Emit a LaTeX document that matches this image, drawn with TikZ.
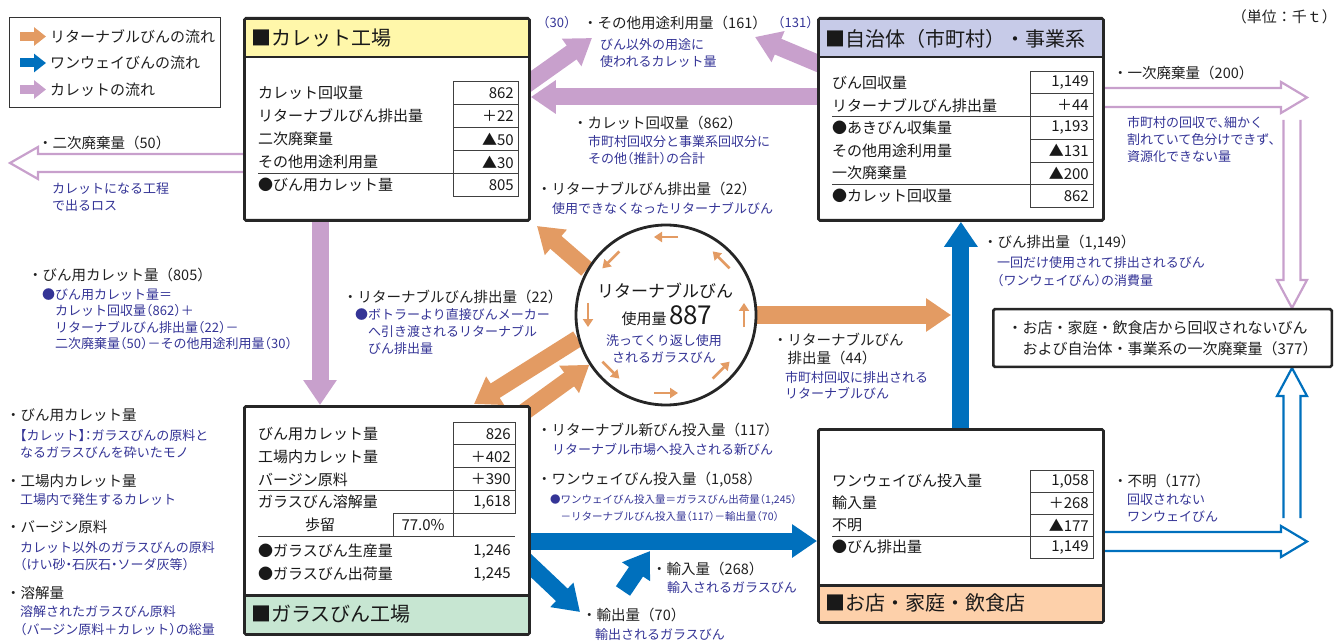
\documentclass[tikz,border=0pt]{standalone}
\usepackage{fontspec}
\setmainfont{Noto Sans CJK JP}
\newfontfamily\jpnote{Noto Sans CJK JP}[RawFeature=+halt]
\usetikzlibrary{arrows.meta,calc,backgrounds}
\definecolor{retc}{RGB}{227,155,99}
\definecolor{owc}{RGB}{0,112,189}
\definecolor{culc}{RGB}{200,160,204}
\definecolor{noteb}{RGB}{52,52,150}
\definecolor{hdy}{RGB}{255,247,170}
\definecolor{hdl}{RGB}{199,203,232}
\definecolor{hdg}{RGB}{199,230,210}
\definecolor{hdp}{RGB}{253,208,170}
\newcommand\fsz[1]{\fontsize{#1}{#1}\selectfont}

\begin{document}
\begin{tikzpicture}[x=1pt, y=-1pt,
	box/.style={draw=black!85, line width=2.8pt, fill=white, rounded corners=1.5pt, anchor=north west, inner sep=0pt},
	hd/.style={text width=272.2pt, inner xsep=5pt, inner ysep=0pt, minimum height=37pt, align=left, font=\fsz{20}, text=black!90},
	hdline/.style={draw=black!85, line width=2.5pt},
	row/.style={anchor=west, inner sep=0pt, font=\fsz{15}, text=black!90},
	val/.style={anchor=east, inner sep=0pt, font=\fsz{15}, text=black!90},
	tbl/.style={draw=black!75, line width=0.8pt},
	lbl/.style={anchor=west, inner sep=0pt, font=\fsz{14.5}, text=black!88},
	note/.style={anchor=north west, inner sep=0pt, align=left, font=\jpnote\fontsize{13}{17}\selectfont, text=noteb},
	bigar/.style={line width=17pt, -{Triangle[width=32pt,length=25pt]}},
	hollow/.style={line width=2.2pt},
	loopar/.style={draw=retc, line width=2.6pt, -{Triangle[width=10pt,length=8pt]}}]
	\useasboundingbox (0,0) rectangle (1341,644);

	% legend
	\node[draw=black!80, line width=1pt, minimum width=211pt, minimum height=90pt, anchor=north west, inner sep=0pt] (lg) at (9,17) {};
	\foreach \c/\t [count=\i] in {retc/リターナブルびんの流れ, owc/ワンウェイびんの流れ, culc/カレットの流れ} {
		\draw[\c, line width=9pt, -{Triangle[width=18pt,length=12pt]}] (20,{10+26.5*\i}) -- ++(26,0);
		\node[lbl, font=\fsz{15}] (lg\i) at (50,{10+26.5*\i}) {\t};
	}
	\node[lbl, anchor=east, font=\fsz{15}] (unit) at (1337,17) {（単位：千ｔ）};

	% boxes
	\node[box, minimum width=285pt, minimum height=202pt] (cf) at (243,17) {};
	\node[hd, fill=hdy, anchor=north west] (cfh) at ($(cf.north west)+(2.8,2.8)$) {■カレット工場};
	\draw[hdline] (cfh.south west) -- (cfh.south east);
	\node[box, minimum width=285pt, minimum height=202pt] (mu) at (817,17) {};
	\node[hd, fill=hdl, anchor=north west] (muh) at ($(mu.north west)+(2.8,2.8)$) {■自治体（市町村）・事業系};
	\draw[hdline] (muh.south west) -- (muh.south east);
	\node[box, minimum width=285pt, minimum height=228pt] (gf) at (243,405) {};
	\node[hd, fill=hdg, anchor=south west] (gfh) at ($(gf.south west)+(2.8,-2.8)$) {■ガラスびん工場};
	\draw[hdline] (gfh.north west) -- (gfh.north east);
	\node[box, minimum width=285pt, minimum height=193pt] (sh) at (817,428) {};
	\node[hd, fill=hdp, anchor=south west, minimum height=35pt] (shh) at ($(sh.south west)+(2.8,-2.8)$) {■お店・家庭・飲食店};
	\draw[hdline] (shh.north west) -- (shh.north east);
	\node[box, line width=2.5pt, minimum width=338.5pt, minimum height=57.5pt, align=left, font=\fontsize{15}{21}\selectfont, text=black!88] (nd) at (992,308) {・お店・家庭・飲食店から回収されないびん\\\phantom{・}および自治体・事業系の一次廃棄量（377）};

	% tables
	\foreach \t/\v [count=\i] in {カレット回収量/862, リターナブルびん排出量/＋22, 二次廃棄量/▲50, その他用途利用量/▲30, ●びん用カレット量/805} {
		\node[row] (cfr\i) at (258,{70+23*\i}) {\t};
		\node[val] (cfv\i) at (514,{70+23*\i}) {\v};
	}
	\draw[tbl] (453,81.5) rectangle (518,196.5);
	\foreach \y in {104.5,127.5,150.5,173.5} \draw[tbl] (453,\y) -- (518,\y);
	\draw[tbl] (258,173.5) -- (453,173.5);

	\foreach \t/\v [count=\i] in {びん回収量/{1,149}, リターナブルびん排出量/＋44, ●あきびん収集量/{1,193}, その他用途利用量/▲131, 一次廃棄量/▲200, ●カレット回収量/862} {
		\node[row] (mur\i) at (832,{59.8+22.7*\i}) {\t};
		\node[val] (muv\i) at (1089,{59.8+22.7*\i}) {\v};
	}
	\draw[tbl] (1030,71.2) rectangle (1093,207.4);
	\foreach \y in {93.9,116.6,139.3,162,184.7} \draw[tbl] (1030,\y) -- (1093,\y);
	\draw[tbl] (832,116.6) -- (1030,116.6);
	\draw[tbl] (832,184.7) -- (1030,184.7);

	\foreach \t/\v [count=\i] in {びん用カレット量/826, 工場内カレット量/＋402, バージン原料/＋390, ガラスびん溶解量/{1,618}} {
		\node[row] (gfr\i) at (258,{411.3+22.7*\i}) {\t};
		\node[val] (gfv\i) at (511,{411.3+22.7*\i}) {\v};
	}
	\draw[tbl] (453,422) rectangle (515,513);
	\foreach \y in {444.7,467.4,490.1} \draw[tbl] (453,\y) -- (515,\y);
	\draw[tbl] (258,490.1) -- (453,490.1);
	\node[row] (gfy) at (305,524.8) {歩留};
	\draw[tbl] (393,513) rectangle (453,536.5);
	\node[row, anchor=center] (gfyv) at (423,524.8) {77.0\%};
	\draw[tbl] (258,536.5) -- (515,536.5);
	\foreach \t/\v [count=\i] in {●ガラスびん生産量/{1,246}, ●ガラスびん出荷量/{1,245}} {
		\node[row] (gfp\i) at (258,{528+23*\i}) {\t};
		\node[val] (gfq\i) at (511,{528+23*\i}) {\v};
	}

	\foreach \t/\v [count=\i] in {ワンウェイびん投入量/{1,058}, 輸入量/＋268, 不明/▲177, ●びん排出量/{1,149}} {
		\node[row] (shr\i) at (832,{459+22*\i}) {\t};
		\node[val] (shv\i) at (1089,{459+22*\i}) {\v};
	}
	\draw[tbl] (1030,470) rectangle (1093,558);
	\foreach \y in {492,514,536} \draw[tbl] (1030,\y) -- (1093,\y);
	\draw[tbl] (832,536) -- (1030,536);

	% returnable bottle loop
	\node[circle, draw=black!85, line width=2.8pt, fill=white, minimum size=180pt, inner sep=0pt] (rb) at (666,315) {};
	\node[inner sep=0pt, font=\fsz{17}, text=black!90] (rbt) at (665,291) {リターナブルびん};
	\node[inner sep=0pt, text=black!90] (rbu) at (667,316) {\fsz{15}使用量\,\fsz{26}887};
	\node[note, anchor=north, align=center] (rbn) at (664,334.5) {洗ってくり返し使用\\されるガラスびん};
	\foreach \a in {0,45,...,315} \draw[loopar] (rb.center) ++(\a:78) ++(\a+90:12) -- ++(\a-90:24);

	% labels
	\node[lbl] (l1) at (583,23) {・その他用途利用量（161）};
	\node[note, anchor=west] (l1a) at (543,23) {（30）};
	\node[note, anchor=west] (l1b) at (778,23) {（131）};
	\node[lbl] (l2) at (573,123) {・カレット回収量（862）};
	\node[lbl] (l3) at (537,189) {・リターナブルびん排出量（22）};
	\node[lbl] (l4) at (38,143) {・二次廃棄量（50）};
	\node[lbl] (l5) at (28,275) {・びん用カレット量（805）};
	\node[lbl] (l6) at (343,297) {・リターナブルびん排出量（22）};
	\node[lbl, anchor=north west, align=left, font=\fontsize{14.5}{18}\selectfont] (l7) at (773,333) {・リターナブルびん\\\phantom{・}排出量（44）};
	\node[lbl] (l8) at (983,243) {・びん排出量（1,149）};
	\node[lbl] (l9) at (1113,73) {・一次廃棄量（200）};
	\node[lbl] (l10) at (6,415) {・びん用カレット量};
	\node[lbl] (l11) at (6,481) {・工場内カレット量};
	\node[lbl] (l12) at (6,527) {・バージン原料};
	\node[lbl] (l13) at (6,593) {・溶解量};
	\node[lbl] (l14) at (537,430) {・リターナブル新びん投入量（117）};
	\node[lbl] (l15) at (537,480) {・ワンウェイびん投入量（1,058）};
	\node[lbl] (l16) at (652,569) {・輸入量（268）};
	\node[lbl] (l17) at (582,615) {・輸出量（70）};
	\node[lbl] (l18) at (1113,481) {・不明（177）};

	\node[note] (n1) at (600,38.5) {びん以外の用途に\\使われるカレット量};
	\node[note] (n2) at (588,135.5) {市町村回収分と事業系回収分に\\その他（推計）の合計};
	\node[note] (n3) at (552,202.5) {使用できなくなったリターナブルびん};
	\node[note] (n4) at (52,182.5) {カレットになる工程\\で出るロス};
	\node[note, font=\jpnote\fontsize{13}{16.4}\selectfont] (n5) at (42,288.5) {●びん用カレット量＝\\\phantom{●}カレット回収量（862）＋\\\phantom{●}リターナブルびん排出量（22）－\\\phantom{●}二次廃棄量（50）－その他用途利用量（30）};
	\node[note] (n6) at (355,308.5) {●ボトラーより直接びんメーカー\\\phantom{●}へ引き渡されるリターナブル\\\phantom{●}びん排出量};
	\node[note, font=\jpnote\fontsize{13}{16}\selectfont] (n7) at (785,371.5) {市町村回収に排出される\\リターナブルびん};
	\node[note, font=\jpnote\fontsize{13}{18}\selectfont] (n8) at (997,256.5) {一回だけ使用されて排出されるびん\\（ワンウェイびん）の消費量};
	\node[note] (n9) at (1127,116.5) {市町村の回収で、細かく\\割れていて色分けできず、\\資源化できない量};
	\node[note] (n10) at (20,429.5) {【カレット】：ガラスびんの原料と\\なるガラスびんを砕いたモノ};
	\node[note] (n11) at (20,493.5) {工場内で発生するカレット};
	\node[note] (n12) at (20,541.5) {カレット以外のガラスびんの原料\\（けい砂・石灰石・ソーダ灰等）};
	\node[note, font=\jpnote\fontsize{13}{18}\selectfont] (n13) at (20,605.5) {溶解されたガラスびん原料\\（バージン原料＋カレット）の総量};
	\node[note] (n14) at (552,443.5) {リターナブル市場へ投入される新びん};
	\node[note, font=\jpnote\fontsize{10.5}{17}\selectfont] (n15) at (550,494.5) {●ワンウェイびん投入量＝ガラスびん出荷量（1,245）\\\phantom{●}－リターナブルびん投入量（117）－輸出量（70）};
	\node[note] (n16) at (667,581.5) {輸入されるガラスびん};
	\node[note] (n17) at (595,628.5) {輸出されるガラスびん};
	\node[note] (n18) at (1127,493.5) {回収されない\\ワンウェイびん};

	% flows
	\coordinate (cu1) at (320,222);
	\coordinate (ou1) at (592,38);
	\coordinate (ou2) at (755,37);
	\coordinate (tp1) at (537,226);
	\coordinate (tp2) at (474,404);
	\coordinate (ex1) at (580,612);
	\coordinate (im0) at (623,591);
	\coordinate (im1) at (650,551);
	\begin{scope}[on background layer]
		\draw[bigar, culc] (cu1) -- (cu1 |- gf.north);
		\draw[bigar, culc] (mu.west |- 0,97) -- (cf.east |- 0,97);
		\draw[bigar, culc] ($(cf.east |- 0,90)+(-12,0)$) -- (ou1);
		\draw[bigar, culc] ($(mu.west |- 0,68)+(12,0)$) -- (ou2);
		\draw[bigar, retc] (rb.150) -- (tp1);
		\draw[bigar, retc] (rb.195) -- (tp2);
		\draw[bigar, retc] ($(gf.north east)+(-8,8)$) -- (rb.213);
		\draw[bigar, retc] (rb.east) -- (rb.east -| 951,0);
		\draw[bigar, owc] (sh.north) -- (mu.south);
		\draw[bigar, owc] (gf.east |- 0,541) -- (sh.west |- 0,541);
		\draw[bigar, owc] ($(gf.east |- 0,556)+(-10,0)$) -- (ex1);
		\draw[bigar, owc] (im0) -- (im1);
		\draw[hollow, culc] (cf.west |- 0,154) -- (38,154) -- (38,147) -- (10,163) -- (38,179) -- (38,172) -- (cf.west |- 0,172);
		\draw[hollow, culc] (mu.east |- 0,88) -- (1281,88) -- (1281,82) -- (1307,97.5) -- (1281,113) -- (1281,107) -- (mu.east |- 0,107);
		\draw[hollow, culc] (1283.5,120) -- (1283.5,280) -- (1277,280) -- (nd.north -| 1292,0) -- (1307,280) -- (1300.5,280) -- (1300.5,120);
		\draw[hollow, owc] (1283.5,518) -- (1283.5,396) -- (1277,396) -- (nd.south -| 1292,0) -- (1307,396) -- (1300.5,396) -- (1300.5,518);
		\draw[hollow, owc] (sh.east |- 0,532) -- (1281,532) -- (1281,526) -- (1307,541.5) -- (1281,557) -- (1281,551) -- (sh.east |- 0,551);
	\end{scope}
\end{tikzpicture}
\end{document}
